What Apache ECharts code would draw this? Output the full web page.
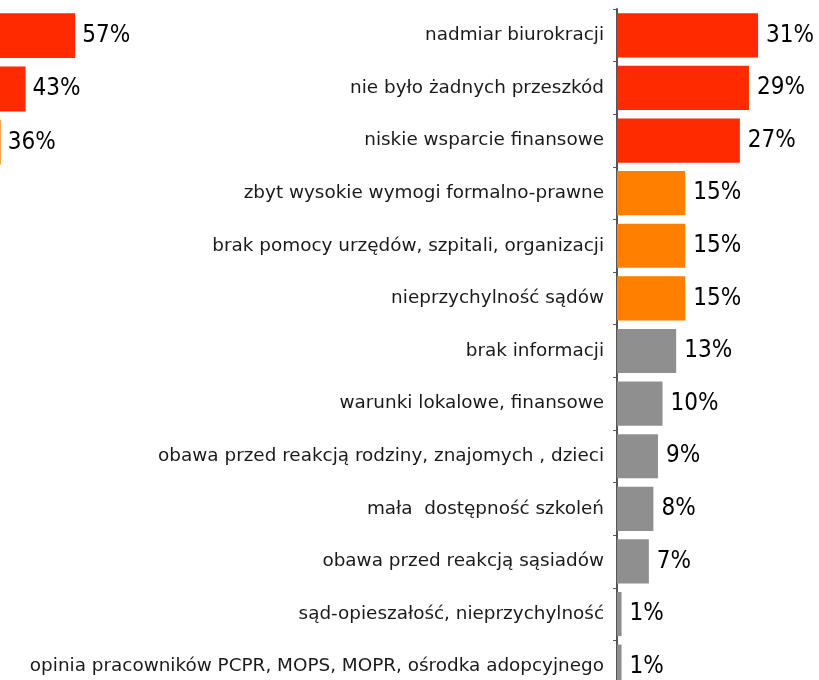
<!DOCTYPE html>
<html>
<head>
<meta charset="utf-8">
<script src="https://cdn.jsdelivr.net/npm/echarts@6/dist/echarts.min.js"></script>
<style>
  html, body { margin: 0; padding: 0; background: #fff; }
  #chart { width: 819px; height: 680px; }
</style>
</head>
<body>
<div id="chart"></div>
<script>
// prawy wykres - przeszkody
var categories = [
  'nadmiar biurokracji',
  'nie było żadnych przeszkód',
  'niskie wsparcie finansowe',
  'zbyt wysokie wymogi formalno-prawne',
  'brak pomocy urzędów, szpitali, organizacji',
  'nieprzychylność sądów',
  'brak informacji',
  'warunki lokalowe, finansowe',
  'obawa przed reakcją rodziny, znajomych , dzieci',
  'mała  dostępność szkoleń',
  'obawa przed reakcją sąsiadów',
  'sąd-opieszałość, nieprzychylność',
  'opinia pracowników PCPR, MOPS, MOPR, ośrodka adopcyjnego'
];
var values = [31, 29, 27, 15, 15, 15, 13, 10, 9, 8, 7, 1, 1];
var tiers = [0, 0, 0, 1, 1, 1, 2, 2, 2, 2, 2, 2, 2];

// lewy wykres (ucięty)
var leftValues = [57, 43, 36];
var leftTiers = [0, 0, 1];

var tierColors = ['#ff2a00', '#ff7f00', '#8f8f8f'];
var font = 'DejaVu Sans';
var valueFont = 'DejaVu Sans Condensed, DejaVu Sans';

function toData(vals, tr) {
  return vals.map(function (v, i) {
    return { value: v, itemStyle: { color: tierColors[tr[i]] } };
  });
}

var chart = echarts.init(document.getElementById('chart'), null, { renderer: 'canvas' });

var valueLabel = {
  show: true,
  position: 'right',
  distance: 8,
  formatter: '{c}%',
  color: '#000',
  fontFamily: valueFont,
  fontSize: 24
};

var option = {
  animation: false,
  backgroundColor: '#fff',
  grid: [
    { left: 617, top: 9, width: 314, height: 684, outerBoundsMode: 'none' },
    { left: 0, top: 9, width: 355, height: 160, outerBoundsMode: 'none' }
  ],
  xAxis: [
    { gridIndex: 0, type: 'value', min: 0, max: 69, show: false },
    // zero jest poza lewą krawędzią
    { gridIndex: 1, type: 'value', min: 35.8, max: 135.8, show: false }
  ],
  yAxis: [
    {
      gridIndex: 0,
      type: 'category',
      inverse: true,
      data: categories,
      axisLine: { show: true, lineStyle: { color: '#555', width: 2 } },
      axisTick: { show: true, length: 4, lineStyle: { color: '#555', width: 1 } },
      axisLabel: { color: '#1a1a1a', fontFamily: font, fontSize: 18.4, margin: 13 }
    },
    {
      gridIndex: 1,
      type: 'category',
      inverse: true,
      data: ['a', 'b', 'c'],
      show: false
    }
  ],
  series: [
    {
      type: 'bar',
      xAxisIndex: 0,
      yAxisIndex: 0,
      barCategoryGap: '16%',
      data: toData(values, tiers),
      label: valueLabel
    },
    {
      type: 'bar',
      xAxisIndex: 1,
      yAxisIndex: 1,
      barCategoryGap: '16%',
      data: toData(leftValues, leftTiers),
      label: Object.assign({}, valueLabel, { distance: 7 })
    }
  ]
};
chart.setOption(option);
</script>
</body>
</html>
